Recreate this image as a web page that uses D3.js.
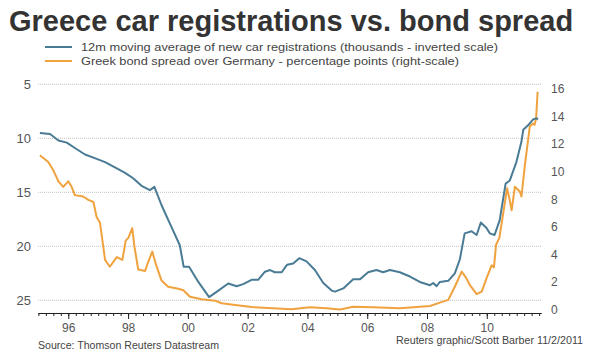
<!DOCTYPE html>
<html>
<head>
<meta charset="utf-8">
<script src="https://cdn.jsdelivr.net/npm/d3@7/dist/d3.min.js"></script>
<style>
  html, body { margin: 0; padding: 0; background: #ffffff; }
  svg { display: block; font-family: "Liberation Sans", Arial, sans-serif; }
</style>
</head>
<body>
<svg id="chart" width="589" height="355"></svg>
<script>
// ---- data (decimal years) ----
const carYears = [1995.05,1995.39,1995.67,1995.95,1996.22,1996.56,1996.95,1997.23,1997.56,1997.9,1998.17,1998.45,1998.73,1998.88,1999.12,1999.4,1999.73,1999.86,2000.04,2000.35,2000.71,2001.02,2001.35,2001.63,2001.85,2002.13,2002.35,2002.58,2002.75,2002.91,2003.14,2003.32,2003.52,2003.73,2003.97,2004.25,2004.53,2004.81,2004.92,2005.2,2005.53,2005.76,2006.03,2006.31,2006.53,2006.76,2007.09,2007.43,2007.76,2008.1,2008.21,2008.32,2008.43,2008.71,2008.93,2009.1,2009.26,2009.49,2009.66,2009.8,2009.99,2010.1,2010.26,2010.43,2010.63,2010.77,2010.99,2011.16,2011.22,2011.38,2011.55,2011.67,2011.71];
const carRegistrations = [9.5,9.6,10.2,10.4,10.9,11.5,11.9,12.2,12.7,13.2,13.7,14.4,14.8,14.5,16.2,17.9,19.9,21.9,21.9,23.3,24.7,24.1,23.45,23.7,23.5,23.1,23.1,22.35,22.2,22.4,22.4,21.7,21.6,21.1,21.4,22.2,23.4,24.1,24.2,23.9,23.05,23.05,22.4,22.2,22.4,22.2,22.4,22.8,23.3,23.6,23.4,23.7,23.3,23.2,22.5,21.2,18.8,18.6,18.95,17.8,18.3,18.8,18.95,17.6,14.2,13.9,12.2,10.3,9.2,8.8,8.25,8.15,8.25];

const spreadYears = [1995.05,1995.33,1995.5,1995.67,1995.83,1996.0,1996.11,1996.22,1996.5,1996.67,1996.84,1996.95,1997.06,1997.23,1997.39,1997.62,1997.81,1997.92,1998.01,1998.14,1998.21,1998.34,1998.57,1998.68,1998.81,1998.92,1999.12,1999.34,1999.68,1999.85,2000.07,2000.46,2000.91,2001.13,2001.58,2002.13,2002.69,2003.47,2004.08,2004.64,2005.09,2005.53,2006.2,2007.09,2007.54,2008.1,2008.43,2008.71,2008.93,2009.16,2009.32,2009.43,2009.66,2009.83,2009.99,2010.16,2010.24,2010.31,2010.42,2010.55,2010.68,2010.77,2010.83,2010.94,2011.11,2011.16,2011.27,2011.44,2011.55,2011.6,2011.65,2011.7];
const bondSpread = [11.2,10.7,10.1,9.3,8.9,9.3,8.9,8.3,8.2,7.95,7.8,6.7,6.3,3.6,3.1,3.8,3.6,5.0,5.2,5.9,4.6,2.9,2.8,3.5,4.2,3.35,2.1,1.65,1.5,1.4,0.93,0.74,0.64,0.45,0.33,0.18,0.11,0.02,0.16,0.09,0.0,0.2,0.16,0.09,0.16,0.25,0.5,0.7,1.65,2.75,2.26,1.78,1.12,1.3,2.26,3.2,3.06,4.7,5.2,7.0,8.8,7.9,7.2,8.9,8.55,8.2,10.4,13.3,13.5,13.4,13.9,15.8];

const leftTicks = [5,10,15,20,25];
const rightTicks = [0,2,4,6,8,10,12,14,16];
const yearLabels = [1996,1998,2000,2002,2004,2006,2008,2010];

const titleText = "Greece car registrations vs. bond spread";
const legendTexts = [
  "12m moving average of new car registrations (thousands - inverted scale)",
  "Greek bond spread over Germany - percentage points (right-scale)"
];
const sourceText = "Source:  Thomson Reuters Datastream";
const creditText = "Reuters graphic/Scott Barber 11/2/2011";

// ---- drawing ----
const BLUE = "#4a7b95", ORANGE = "#f0a23e", TXT = "#555555";
const svg = d3.select("#chart");

const x = d3.scaleLinear().domain([1995, 2011.84]).range([38.4, 541.8]);
const yL = d3.scaleLinear().domain([5, 25]).range([84.3, 300.3]);
const yR = d3.scaleLinear().domain([0, 16]).range([309.5, 89]);

// gridlines
svg.append("g").selectAll("line").data(leftTicks).join("line")
  .attr("x1", 38).attr("x2", 542)
  .attr("y1", d => yL(d)).attr("y2", d => yL(d))
  .attr("stroke", "#c4c4c4").attr("stroke-width", 1)
  .attr("stroke-dasharray", "1,1");

// left axis
const gL = svg.append("g").attr("transform", "translate(31,0)")
  .call(d3.axisLeft(yL).tickValues(leftTicks).tickSize(0).tickPadding(0));
gL.select(".domain").remove();
gL.selectAll("text").attr("font-size", 13).attr("fill", TXT).attr("font-family", "Liberation Sans, Arial, sans-serif");

// right axis
const gR = svg.append("g").attr("transform", "translate(551,0)")
  .call(d3.axisRight(yR).tickValues(rightTicks).tickSize(0).tickPadding(0));
gR.select(".domain").remove();
gR.selectAll("text").attr("font-size", 12).attr("fill", TXT).attr("font-family", "Liberation Sans, Arial, sans-serif");

// bottom axis: quarterly minor ticks + even-year major ticks
const quarters = d3.range(1995, 2011.84, 0.25);
const gB = svg.append("g").attr("transform", "translate(0,313)");
gB.call(d3.axisBottom(x).tickValues(quarters).tickSize(3).tickFormat(""));
gB.select(".domain").attr("stroke", "#222").attr("d", `M${x(1995)},0.5H${x(2011.84)}`);
gB.selectAll(".tick line").attr("stroke", "#222");
const gB2 = svg.append("g").attr("transform", "translate(0,313)");
gB2.call(d3.axisBottom(x).tickValues(yearLabels).tickSize(6).tickPadding(4)
  .tickFormat(d => String(d).slice(2)));
gB2.select(".domain").remove();
gB2.selectAll(".tick line").attr("stroke", "#222");
gB2.selectAll("text").attr("font-size", 12).attr("fill", TXT).attr("font-family", "Liberation Sans, Arial, sans-serif");

// lines
const carData = carYears.map((t, i) => [t, carRegistrations[i]]);
const spreadData = spreadYears.map((t, i) => [t, bondSpread[i]]);

svg.append("path").datum(spreadData)
  .attr("fill", "none").attr("stroke", ORANGE).attr("stroke-width", 2)
  .attr("stroke-linejoin", "round")
  .attr("d", d3.line().x(d => x(d[0])).y(d => yR(d[1])));

svg.append("path").datum(carData)
  .attr("fill", "none").attr("stroke", BLUE).attr("stroke-width", 2)
  .attr("stroke-linejoin", "round")
  .attr("d", d3.line().x(d => x(d[0])).y(d => yL(d[1])));

// title
svg.append("text").attr("x", 9).attr("y", 31)
  .attr("font-size", 29).attr("font-weight", "bold").attr("fill", "#333")
  .text(titleText);

// legend
const legend = svg.append("g");
const legendEnds = [498, 459];
[BLUE, ORANGE].forEach((c, i) => {
  const yy = 47 + i * 14;
  legend.append("line").attr("x1", 45).attr("x2", 72).attr("y1", yy).attr("y2", yy)
    .attr("stroke", c).attr("stroke-width", 2);
  legend.append("text").attr("x", 81).attr("y", yy + 4)
    .attr("font-size", 11.5).attr("fill", "#444")
    .attr("textLength", legendEnds[i] - 81).attr("lengthAdjust", "spacingAndGlyphs")
    .text(legendTexts[i]);
});

// footer
svg.append("text").attr("x", 38).attr("y", 349).attr("font-size", 10).attr("fill", "#444")
  .attr("textLength", 181).attr("lengthAdjust", "spacingAndGlyphs").text(sourceText);
svg.append("text").attr("x", 396).attr("y", 344)
  .attr("font-size", 10).attr("fill", "#444")
  .attr("textLength", 187).attr("lengthAdjust", "spacingAndGlyphs").text(creditText);
</script>
</body>
</html>
